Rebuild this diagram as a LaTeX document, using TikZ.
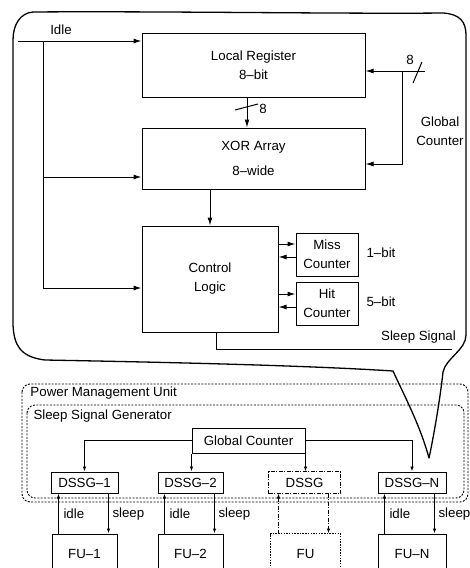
\documentclass[tikz,border=0pt]{standalone}
\usepackage{fontspec}
\setmainfont{Liberation Sans}
\usetikzlibrary{arrows.meta,calc}
\newcommand\lab{\fontsize{13.3}{19}\selectfont}
\begin{document}
\begin{tikzpicture}[x=1pt,y=-1pt,
  line width=1pt,
  box/.style={draw, line width=1pt, inner sep=0pt, align=center, font=\lab},
  txt/.style={inner sep=0pt, align=center, font=\lab},
  arr/.style={-{Latex[length=8pt,width=5pt]}, line width=1pt},
  sarr/.style={-{Latex[length=5pt,width=3.5pt]}, line width=0.9pt},
  bubble/.style={line width=1.3pt, line join=round},
  pmu/.style={draw, dash pattern=on 2pt off 1.4pt, line width=0.9pt, rounded corners=8pt},
  dashdot/.style={dash pattern=on 4pt off 1.5pt on 1pt off 1.5pt, line width=0.9pt},
  dotbox/.style={dash pattern=on 1.5pt off 1.2pt, line width=0.9pt}
]
\clip (0,0) rectangle (469,568);
\useasboundingbox (0,0) rectangle (469,568);

% speech bubble
\draw[bubble] (33,12) .. controls (150,11) and (350,14) .. (443,13)
  .. controls (460,14) and (466,22) .. (466,35) -- (466,335)
  .. controls (466,350) and (446,358) .. (443,372)
  .. controls (440,400) and (433,440) .. (429,458)
  .. controls (420,425) and (404,395) .. (393,371)
  .. controls (300,365) and (150,362) .. (45,360)
  .. controls (20,357) and (14,345) .. (13,325) -- (13,40)
  .. controls (13,25) and (20,13) .. (33,12) -- cycle;

% upper blocks
\node[box, minimum width=223pt, minimum height=64pt] (lr) at (253.5,65) {Local Register\\8–bit};
\node[box, minimum width=223pt, minimum height=61pt] (xor) at (253.5,158.5) {XOR Array\\[6pt]8–wide};
\node[box, minimum width=136pt, minimum height=106pt] (cl) at (210,279) {Control\\Logic};
\node[box, minimum width=62pt, minimum height=43pt] (miss) at (327,254.5) {Miss\\Counter};
\node[box, minimum width=62pt, minimum height=43pt] (hit) at (327,303.5) {Hit\\Counter};

\node[txt] (idlelab) at (61,30) {Idle};
\node[txt] (gclab) at (440,131) {Global\\Counter};
\node[txt] (onebit) at (381,253) {1–bit};
\node[txt] (fivebit) at (381,302) {5–bit};
\node[txt] (sslab) at (418.5,337) {Sleep Signal};
\node[txt] (eighta) at (410,60) {8};
\node[txt] (eightb) at (263,109) {8};

\coordinate (idlestart) at (18,41);
\coordinate (bus) at (43,41);
\coordinate (busbot) at (43,288);
\coordinate (busmid) at (43,177);
\coordinate (gcin) at (425,71);
\coordinate (gcv) at (402,71);
\coordinate (gcvbot) at (402,164);
\coordinate (ssend) at (452,349);
\coordinate (lrs) at ($(lr.south)+(-6.5,0)$);
\coordinate (cls) at ($(cl.south)+(6,0)$);
\coordinate (m1) at ($(miss.west)+(0,-10.5)$);
\coordinate (m2) at ($(miss.west)+(0,2.5)$);
\coordinate (h1) at ($(hit.west)+(0,-9.5)$);
\coordinate (h2) at ($(hit.west)+(0,3.5)$);

\draw[arr] (idlestart) -- (idlestart -| lr.west);
\draw (bus) -- (busbot);
\draw[arr] (busbot) -- (busbot -| cl.west);
\draw[arr] (busmid) -- (busmid -| xor.west);
\draw[arr] (gcin) -- (gcin -| lr.east);
\draw[arr] (gcv) -- (gcvbot) -- (gcvbot -| xor.east);
\draw (413,83) -- (422,62);
\draw[arr] (lrs) -- (lrs |- xor.north);
\draw (235,110) -- (258,104);
\draw[arr] (xor.south -| cl.north) -- (cl.north);
\draw[arr] (m1 -| cl.east) -- (m1);
\draw[arr] (m2) -- (m2 -| cl.east);
\draw[arr] (h1 -| cl.east) -- (h1);
\draw[arr] (h2) -- (h2 -| cl.east);
\draw (cls) |- (ssend);

% power management unit
\draw[pmu] (22,384) rectangle (468,502);
\draw[pmu] (27,405) rectangle (464,498);
\node[txt, anchor=west] (pmulab) at (30,393) {Power Management Unit};
\node[txt, anchor=west] (ssglab) at (33,416) {Sleep Signal Generator};

\node[box, minimum width=113pt, minimum height=25pt] (gc) at (248.5,440.5) {Global Counter};
\node[box, minimum width=67pt, minimum height=21pt] (d1) at (84.5,482.5) {DSSG–1};
\node[box, minimum width=65pt, minimum height=21pt] (d2) at (190.5,482.5) {DSSG–2};
\node[box, draw=none, minimum width=71pt, minimum height=21pt] (d3) at (304.5,482.5) {DSSG};
\draw[dashdot] (d3.south west) rectangle (d3.north east);
\node[box, minimum width=68pt, minimum height=21pt] (dn) at (412,482.5) {DSSG–N};

\node[box, minimum width=65pt, minimum height=40pt] (f1) at (84.5,554) {FU–1};
\node[box, minimum width=65pt, minimum height=40pt] (f2) at (190.5,554) {FU–2};
\node[box, draw=none, minimum width=69pt, minimum height=40pt] (f3) at (305.5,554) {FU};
\draw[dotbox] (f3.south west) rectangle (f3.north east);
\node[box, minimum width=68pt, minimum height=40pt] (fn) at (412,554) {FU–N};

\draw[sarr] (gc.west) -| (d1.north);
\draw[sarr] (gc.east) -| (dn.north);
\draw[sarr] (gc.south west) -- (gc.south west |- d2.north);
\draw[sarr] (gc.south east) -- (gc.south east |- d3.north);

% idle / sleep links
\coordinate (i1) at ($(f1.north west)+(7,0)$);
\coordinate (s1) at ($(d1.south east)+(-10,0)$);
\coordinate (i2) at ($(f2.north west)+(7,0)$);
\coordinate (s2) at ($(d2.south east)+(-9,0)$);
\coordinate (i3) at ($(f3.north west)+(8,0)$);
\coordinate (s3) at ($(d3.south east)+(-12,0)$);
\coordinate (in) at ($(fn.north west)+(7,0)$);
\coordinate (sn) at ($(dn.south east)+(-12,0)$);
\draw[sarr] (i1) -- (i1 |- d1.south);
\draw[sarr] (s1) -- (s1 |- f1.north);
\draw[sarr] (i2) -- (i2 |- d2.south);
\draw[sarr] (s2) -- (s2 |- f2.north);
\draw[sarr, dashdot] (i3) -- (i3 |- d3.south);
\draw[sarr, dashdot] (s3) -- (s3 |- f3.north);
\draw[sarr] (in) -- (in |- dn.south);
\draw[sarr] (sn) -- (sn |- fn.north);

\node[txt, anchor=west] (il1) at (63,514) {idle};
\node[txt, anchor=west] (sl1) at (112,514) {sleep};
\node[txt, anchor=west] (il2) at (169,514) {idle};
\node[txt, anchor=west] (sl2) at (218,514) {sleep};
\node[txt, anchor=west] (iln) at (389,514) {idle};
\node[txt, anchor=west] (sln) at (438,514) {sleep};
\end{tikzpicture}
\end{document}
